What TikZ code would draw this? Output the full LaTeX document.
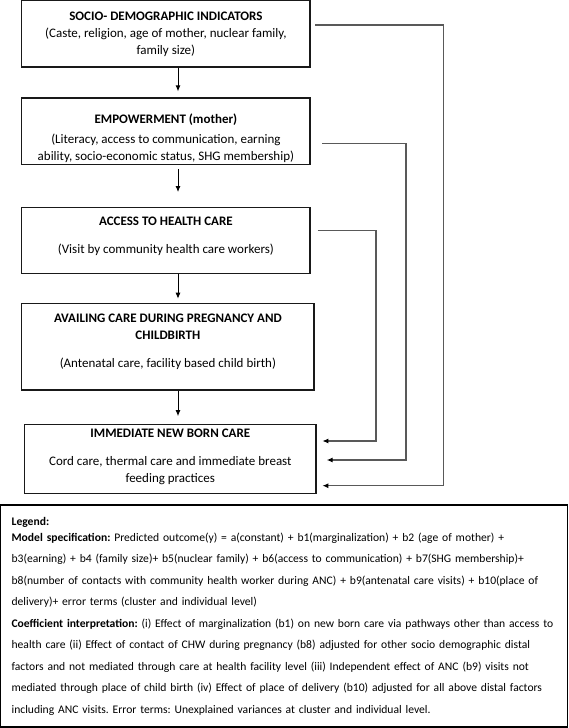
\documentclass[tikz,border=0pt]{standalone}
\usepackage{fontspec}
\setmainfont{Carlito}
\frenchspacing
\usetikzlibrary{arrows.meta}

\begin{document}
\begin{tikzpicture}[x=1pt,y=-1pt]
			\tikzstyle{every node}+=[inner sep=0pt]
			\tikzstyle{box}=[draw=black!90,line width=1.3pt,align=center,font=\fontsize{13}{17}\selectfont]
			\tikzstyle{down}=[black,line width=0.9pt,-{Latex[length=6pt,width=5pt]}]
			\tikzstyle{back}=[black!65,line width=1.2pt,-{Latex[length=6pt,width=5pt,color=black]}]
			\useasboundingbox (0,0) rectangle (568,728);
			\node [box,minimum width=288.3,minimum height=66.3] (socio) at (165.9,33.9) {\textbf{SOCIO- DEMOGRAPHIC INDICATORS}\\(Caste, religion, age of mother, nuclear family,\\family size)};
			\node [box,minimum width=288.3,minimum height=66.3] (power) at (165.9,131.2) {\rule{0pt}{23pt}\textbf{EMPOWERMENT (mother)}\\[3pt](Literacy, access to communication, earning\\ability, socio-economic status, SHG membership)};
			\node [box,minimum width=288.3,minimum height=65.6] (access) at (165.9,240.5) {\textbf{ACCESS TO HEALTH CARE}\\[11pt](Visit by community health care workers)\rule[-11pt]{0pt}{11pt}};
			\node [box,minimum width=292.3,minimum height=86.7] (avail) at (167.9,346.7) {\textbf{AVAILING CARE DURING PREGNANCY AND}\\\textbf{CHILDBIRTH}\\[11pt](Antenatal care, facility based child birth)\rule[-11pt]{0pt}{11pt}};
			\node [box,minimum width=291.4,minimum height=69] (newborn) at (170.3,458.8) {\textbf{IMMEDIATE NEW BORN CARE}\\[11pt]Cord care, thermal care and immediate breast\\feeding practices\rule[-7pt]{0pt}{7pt}};
			\node [draw=black,line width=1.3pt,text width=544.6,inner xsep=11pt,minimum height=222,align=left,font=\fontsize{11.6}{21.5}\selectfont] (legend) at (283.9,616) {\textbf{Legend:}\\[-5.5pt]
				\textbf{Model specification:} Predicted outcome(y) = a(constant) + b1(marginalization) + b2 (age of mother) +\\
				b3(earning) + b4 (family size)+ b5(nuclear family) + b6(access to communication) + b7(SHG membership)+\\
				b8(number of contacts with community health worker during ANC) + b9(antenatal care visits) + b10(place of\\
				delivery)+ error terms (cluster and individual level)\\
				\textbf{Coefficient interpretation:} (i) Effect of marginalization (b1) on new born care via pathways other than access to\\
				health care (ii) Effect of contact of CHW during pregnancy (b8) adjusted for other socio demographic distal\\
				factors and not mediated through care at health facility level (iii) Independent effect of ANC (b9) visits not\\
				mediated through place of child birth (iv) Effect of place of delivery (b10) adjusted for all above distal factors\\
				including ANC visits. Error terms: Unexplained variances at cluster and individual level.};
			\coordinate (spine) at (178,0);
			\coordinate (cornerA) at (443.3,485.7);
			\coordinate (cornerB) at (406,460);
			\coordinate (cornerC) at (376,441);
			\draw [down,shorten >=6pt] (socio.south -| spine) -- (power.north -| spine);
			\draw [down,shorten <=4pt,shorten >=15pt] (power.south -| spine) -- (access.north -| spine);
			\draw [down,shorten >=4pt] (access.south -| spine) -- (avail.north -| spine);
			\draw [down,shorten >=7.5pt] (avail.south -| spine) -- (newborn.north -| spine);
			\draw [back,shorten <=4.3pt,shorten >=5.7pt] (socio.east |- 0,25) -| (cornerA) -- (newborn.east |- cornerA);
			\draw [back,shorten <=11.5pt,shorten >=10pt] (power.east |- 0,143.3) -| (cornerB) -- (newborn.east |- cornerB);
			\draw [back,shorten <=7pt,shorten >=5.7pt] (access.east |- 0,230.7) -| (cornerC) -- (newborn.east |- cornerC);
\end{tikzpicture}
\end{document}
